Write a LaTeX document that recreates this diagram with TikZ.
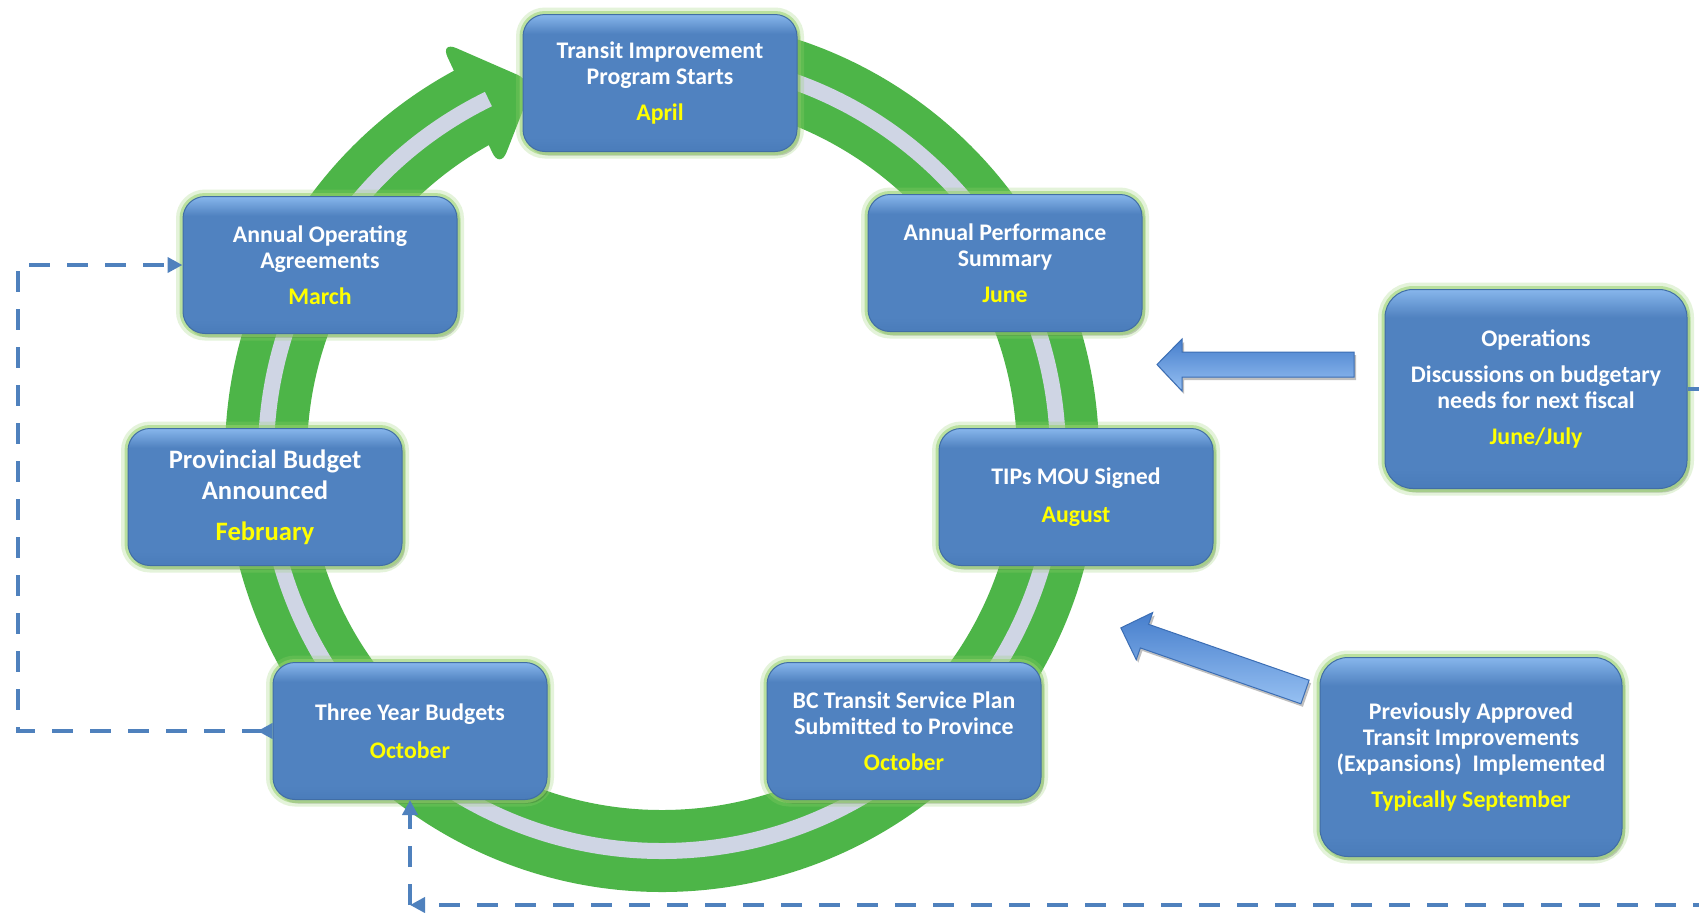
\documentclass[tikz,border=0pt]{standalone}
\usepackage{fontspec}
\setmainfont{Carlito}
\usetikzlibrary{arrows.meta,shadows}
\definecolor{ringgreen}{RGB}{77,181,72}
\definecolor{ringgray}{RGB}{207,213,228}
\definecolor{boxtop}{RGB}{135,182,236}
\definecolor{boxmid}{RGB}{80,130,192}
\definecolor{boxbot}{RGB}{74,124,186}
\definecolor{boxedge}{RGB}{65,110,165}
\definecolor{glowgreen}{RGB}{150,210,110}
\definecolor{monthyellow}{RGB}{255,255,0}
\definecolor{connblue}{RGB}{79,129,189}
\definecolor{arrtop}{RGB}{70,126,204}
\definecolor{arrbot}{RGB}{150,192,242}
\definecolor{arredge}{RGB}{60,110,180}
\pgfdeclareverticalshading{boxshade}{100bp}{color(0bp)=(boxbot); color(25bp)=(boxbot); color(30bp)=(boxmid); color(68bp)=(boxmid); color(75bp)=(boxtop); color(100bp)=(boxtop)}
\newcommand{\mon}[1]{{\color{monthyellow}#1}}
\tikzset{
  stbox/.style={rectangle, rounded corners=11pt, minimum width=137pt, minimum height=68.5pt,
    inner sep=0pt, align=center, text=white, font=\fontsize{11.9}{13}\selectfont\bfseries,
    drop shadow={shadow xshift=1.5pt, shadow yshift=-2pt, opacity=0.22, fill=black},
    preaction={draw=glowgreen, line width=7pt, draw opacity=0.25},
    preaction={draw=glowgreen, line width=3.5pt, draw opacity=0.55},
    shading=boxshade, draw=boxedge, line width=0.5pt},
  bigbox/.style={stbox, rounded corners=14pt, minimum width=151pt, minimum height=99.5pt},
  blockarrow/.style={draw=arredge, line width=0.5pt, top color=arrtop, bottom color=arrbot,
    drop shadow={shadow xshift=1pt, shadow yshift=-1.5pt, opacity=0.25, fill=black}},
  dashconn/.style={draw=connblue, line width=2.4pt, dash pattern=on 10.5pt off 8.5pt},
  conntip/.tip={Triangle[length=7.5pt,width=7.5pt]},
}
\begin{document}
\begin{tikzpicture}[x=0.5pt,y=-0.5pt]
\useasboundingbox (0,0) rectangle (1699,912);
\fill[white] (0,0) rectangle (1699,912);
\clip (0,0) rectangle (1699,912);

% cycle ring
\coordinate (ctr) at (662,455);
\draw[ringgreen, line width=41pt] (ctr) ++(-92:396) arc[start angle=-92, end angle=243, radius=396];
\fill[ringgreen, rounded corners=9pt] (440,41) -- (534,82) -- (500,169) -- cycle;
\draw[ringgray, line width=8pt] (ctr) ++(-92:396) arc[start angle=-92, end angle=244, radius=396];

% boxes
\node[stbox] (tip) at (660,83) {Transit Improvement\\Program Starts\\[5pt]\mon{April}};
\node[stbox] (aoa) at (320,265) {Annual Operating\\Agreements\\[5pt]\mon{March}};
\node[stbox] (aps) at (1005,263) {Annual Performance\\Summary\\[5pt]\mon{June}};
\node[stbox, font=\fontsize{13.3}{15.5}\selectfont\bfseries] (pba) at (265,497) {Provincial Budget\\Announced\\[5pt]\mon{February}};
\node[stbox] (mou) at (1076,497) {TIPs MOU Signed\\[6pt]\mon{August}};
\node[stbox] (tyb) at (410,731) {Three Year Budgets\\[6pt]\mon{October}};
\node[stbox] (bct) at (904,731) {BC Transit Service Plan\\Submitted to Province\\[5pt]\mon{October}};
\node[bigbox] (ops) at (1536,389) {Operations\\[5pt]Discussions on budgetary\\needs for next fiscal\\[5pt]\mon{June/July}};
\node[bigbox] (pat) at (1471,757) {Previously Approved\\Transit Improvements\\(Expansions)~~Implemented\\[5pt]\mon{Typically September}};

% block arrows
\path[blockarrow] (1354,352) -- (1182,352) -- (1182,339) -- (1157,364.5) -- (1182,391) -- (1182,377) -- (1354,377) -- cycle;
\path[blockarrow, shift={(1305,692)}, rotate=-19.2] (0,-12.5) -- (-170,-12.5) -- (-170,-25) -- (-195,0) -- (-170,25) -- (-170,12.5) -- (0,12.5) -- cycle;

% dashed connectors
\draw[dashconn, {Triangle[reversed,length=7.5pt,width=7.5pt]}-{conntip}] (tyb.west) -| (18,500) |- (aoa.west);
\coordinate (bc) at (tyb.south |- 0,905);
\draw[dashconn, -{conntip}] (ops.east) -- ++(40,0) |- (bc);
\draw[dashconn, -{conntip}] (bc) -- (tyb.south);
\end{tikzpicture}
\end{document}
